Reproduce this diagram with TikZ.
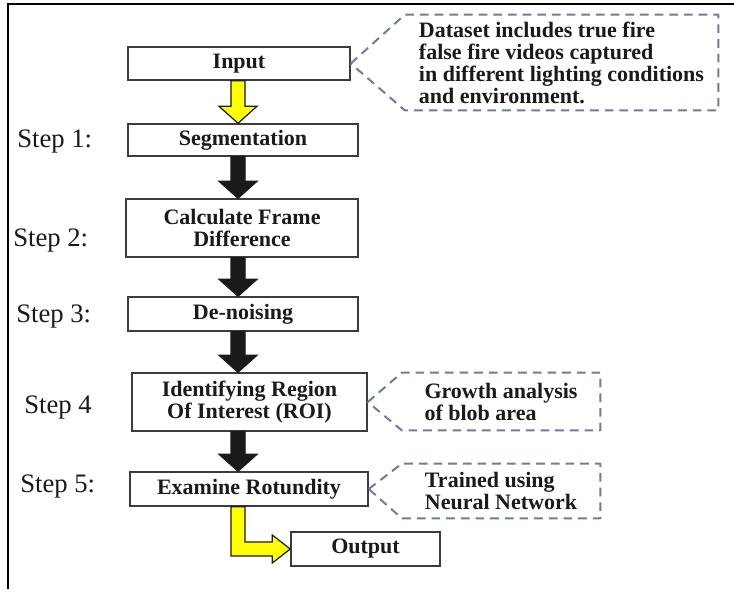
\documentclass[tikz,border=0pt]{standalone}
\usepackage{fontspec}
\setmainfont{Liberation Serif}
\usepackage{xcolor}
\usepackage{tikz}
\usetikzlibrary{calc}
\definecolor{ink}{HTML}{1A1A1A}
\definecolor{edge}{HTML}{3C3C3C}
\definecolor{dashc}{HTML}{6E7C9A}
\definecolor{hilite}{HTML}{FFFF00}
\tikzset{
  boxsize/.style 2 args={minimum width=#1*0.75pt, minimum height=#2*0.75pt},
  box/.style={draw=edge, line width=1.1pt, fill=white, text=ink, inner sep=0pt, align=center,
    font=\bfseries\fontsize{16.5}{16.5}\selectfont},
  note/.style={inner sep=0pt, align=left, text=ink, font=\bfseries\fontsize{16.5}{16.5}\selectfont},
  callout/.style={draw=dashc, line width=1.5pt, dash pattern=on 6.5pt off 4.5pt, line join=round},
  steplab/.style={anchor=west, inner sep=0pt, text=ink, font=\fontsize{20}{20}\selectfont},
  blk/.style={draw=ink, line width=0.9pt, line join=miter},
  frame/.style={draw=black, line width=2pt},
}

\begin{document}
\begin{tikzpicture}[x=0.75pt,y=-0.75pt]
  \path[use as bounding box, fill=white] (0,0) rectangle (734,589);
  \draw[frame] (8,589) |- (734,4);
  \coordinate (axis) at (238,0);

  \node[box, boxsize={222}{33}] (input) at (239,63.5) {Input};
  \node[box, boxsize={230}{32}] (seg) at (243,140) {Segmentation};
  \node[box, boxsize={232}{58}] (calc) at (242,228) {Calculate Frame\\Difference};
  \node[box, boxsize={230}{34}] (denoise) at (243,314) {De-noising};
  \node[box, boxsize={235}{58}] (roi) at (249.5,402) {Identifying Region\\Of Interest (ROI)};
  \node[box, boxsize={238}{34}] (rotund) at (249,489) {Examine Rotundity};
  \node[box, boxsize={149}{34}] (output) at (365.5,549) {Output};

  \node[steplab] (s1) at (17,142) {Step 1:};
  \node[steplab] (s2) at (13,241) {Step 2:};
  \node[steplab] (s3) at (16,317) {Step 3:};
  \node[steplab] (s4) at (24,408) {Step 4};
  \node[steplab] (s5) at (20,487) {Step 5:};

  \node[note, boxsize={313}{95}] (data) at (561.5,62.5) {Dataset includes true fire\\false fire videos captured\\in different lighting conditions\\and environment.};
  \node[note, boxsize={198}{57}] (growth) at (501,401.5) {Growth analysis\\of blob area};
  \node[note, boxsize={198}{54}] (trained) at (501,491) {Trained using\\Neural Network};

  \foreach \n/\m in {input/data, roi/growth, rotund/trained}
    \draw[callout] (\n.east) -- (\m.north west) -- (\m.north east) -- (\m.south east) -- (\m.south west) -- cycle;

  \foreach \a/\b/\f in {input/seg/hilite, seg/calc/ink, calc/denoise/ink, denoise/roi/ink, roi/rotund/ink}{
    \coordinate (p) at (axis |- \a.south);
    \coordinate (q) at (axis |- \b.north);
    \draw[blk, fill=\f] ($(p)+(-7,0)$) -- ($(q)+(-7,-17)$) -- ($(q)+(-19,-17)$) -- (q)
      -- ($(q)+(19,-17)$) -- ($(q)+(7,-17)$) -- ($(p)+(7,0)$) -- cycle;
  }

  \coordinate (p) at (axis |- rotund.south);
  \coordinate (c) at (axis |- output.west);
  \draw[blk, fill=hilite] ($(p)+(-7,0)$) -- ($(c)+(-7,7)$) -- ($(output.west)+(-18,7)$)
    -- ($(output.west)+(-18,14)$) -- (output.west) -- ($(output.west)+(-18,-14)$)
    -- ($(output.west)+(-18,-7)$) -- ($(c)+(7,-7)$) -- ($(p)+(7,0)$) -- cycle;
\end{tikzpicture}
\end{document}
